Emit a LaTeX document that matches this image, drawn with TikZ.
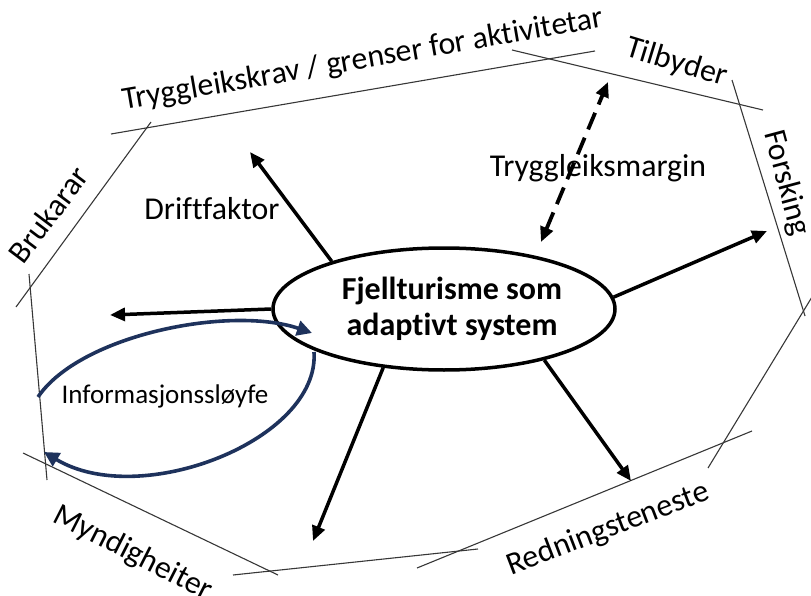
\documentclass[tikz,border=0pt]{standalone}
\usepackage{fontspec}
\setmainfont[Ligatures=CommonOff]{Carlito}
\usetikzlibrary{shapes.geometric,arrows.meta}
\definecolor{thingray}{RGB}{55,55,55}
\definecolor{loopblue}{RGB}{30,50,92}
\begin{document}
\begin{tikzpicture}[x=1pt,y=-1pt,
  thinline/.style={draw=thingray, line width=1.1pt},
  lbl/.style={font=\fontsize{31.8}{38}\selectfont, inner sep=0pt, anchor=base},
  arr/.style={draw=black, line width=3.5pt, -{Triangle[length=15pt,width=13pt]}},
  dasharr/.style={draw=black, line width=3.8pt, dash pattern=on 18pt off 9pt,
     {Triangle[length=15pt,width=13pt]}-{Triangle[length=15pt,width=13pt]}},
  loopc/.style={draw=loopblue, line width=3.6pt, -{Triangle[length=15pt,width=15pt]}},
  sysnode/.style={draw=black, ellipse, line width=3.5pt, minimum width=342pt,
     minimum height=122pt, inner sep=0pt, align=center,
     font=\fontsize{32}{36}\selectfont\bfseries}
]
\useasboundingbox (0,0) rectangle (811,596);

% thin boundary lines
\draw[thinline] (111,134) -- (595,51);
\draw[thinline] (151,122) -- (16,307);
\draw[thinline] (29,274) -- (47,480);
\draw[thinline] (23,453) -- (278,575);
\draw[thinline] (233,575) -- (478,549);
\draw[thinline] (417,568) -- (752,431);
\draw[thinline] (708,468) -- (815,292);
\draw[thinline] (732,80) -- (805,316);
\draw[thinline] (512,50) -- (763,110);

% boundary labels
\node[lbl, rotate=9.8] (krav) at (364.5,68.5) {Tryggleikskrav / grenser for aktivitetar};
\node[lbl, rotate=53] (bruk) at (57,221) {Brukarar};
\node[lbl, rotate=-17] (tilb) at (674,71) {Tilbyder};
\node[lbl, rotate=-75] (fors) at (778,185) {Forsking};
\node[lbl, rotate=-27] (mynd) at (129,561) {Myndigheiter};
\node[lbl, rotate=21] (redn) at (611,537) {Redningsteneste};

% inner labels
\node[lbl] (drift) at (212,220) {Driftfaktor};
\node[lbl] (margin) at (598,177) {Tryggleiksmargin};
\node[lbl, font=\fontsize{27}{32}\selectfont] (info) at (165,403) {Informasjonssløyfe};

% central system
\node[sysnode] (sys) at (444,309) {\hspace*{16pt}Fjellturisme som\\\hspace*{16pt}adaptivt system};

% arrow ends
\coordinate (t1) at (250,152);
\coordinate (t3) at (767,231);
\coordinate (t4) at (110,315);
\coordinate (t5) at (313,541);
\coordinate (t6) at (631,481);
\coordinate (m1) at (541,242);
\coordinate (m2) at (608,82);

\draw[arr] (sys.157) -- (t1);
\draw[arr] (sys.4) -- (t3);
\draw[arr] (sys.180) -- (t4);
\draw[arr] (sys.224) -- (t5);
\draw[arr] (sys.333) -- (t6);
\draw[dasharr] (m1) -- (m2);

% information loop
\coordinate (l1) at (38,397);
\coordinate (l2) at (312,333);
\coordinate (l3) at (314,352);
\coordinate (l4) at (44,452);
\draw[loopc] (l1) .. controls (80,335) and (230,305) .. (l2);
\draw[loopc] (l3) .. controls (320,440) and (140,510) .. (l4);
\end{tikzpicture}
\end{document}
